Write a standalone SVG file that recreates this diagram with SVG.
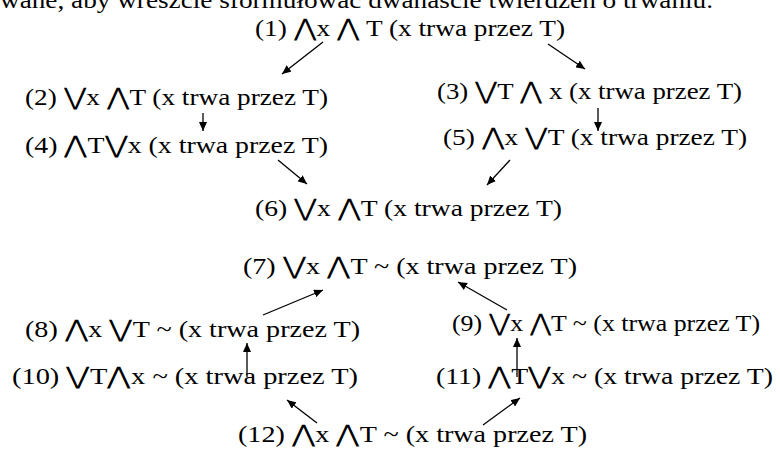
<svg xmlns="http://www.w3.org/2000/svg" width="780" height="455" viewBox="0 0 780 455">
<defs>
<style>
.t{font-family:"Liberation Serif","DejaVu Serif",serif;font-size:24px;fill:#000}
.c line{stroke:#000;stroke-width:1.3;marker-end:url(#ah)}
</style>
<marker id="ah" markerUnits="userSpaceOnUse" markerWidth="10" markerHeight="8" refX="9" refY="4" orient="auto">
<path d="M0,0 L9,4 L0,8 z" fill="#000"/>
</marker>
</defs>
<rect width="780" height="455" fill="#fff"/>
<text class="t" x="0" y="8" textLength="713" lengthAdjust="spacingAndGlyphs">wane, aby wreszcie sformułować dwanaście twierdzeń o trwaniu.</text>
<g id="n1"><text class="t" x="255" y="36" textLength="310" lengthAdjust="spacingAndGlyphs">(1) ⋀x ⋀ T (x trwa przez T)</text></g>
<g id="n2"><text class="t" x="25" y="105" textLength="303" lengthAdjust="spacingAndGlyphs">(2) ⋁x ⋀T (x trwa przez T)</text></g>
<g id="n3"><text class="t" x="437" y="99" textLength="305" lengthAdjust="spacingAndGlyphs">(3) ⋁T ⋀ x (x trwa przez T)</text></g>
<g id="n4"><text class="t" x="25" y="153" textLength="303" lengthAdjust="spacingAndGlyphs">(4) ⋀T⋁x (x trwa przez T)</text></g>
<g id="n5"><text class="t" x="443" y="145" textLength="304" lengthAdjust="spacingAndGlyphs">(5) ⋀x ⋁T (x trwa przez T)</text></g>
<g id="n6"><text class="t" x="255" y="216" textLength="307" lengthAdjust="spacingAndGlyphs">(6) ⋁x ⋀T (x trwa przez T)</text></g>
<g id="n7"><text class="t" x="243" y="274" textLength="334" lengthAdjust="spacingAndGlyphs">(7) ⋁x ⋀T ~  (x trwa przez T)</text></g>
<g id="n8"><text class="t" x="25" y="337" textLength="335" lengthAdjust="spacingAndGlyphs">(8) ⋀x ⋁T ~  (x trwa przez T)</text></g>
<g id="n9"><text class="t" x="452" y="331" textLength="308" lengthAdjust="spacingAndGlyphs">(9) ⋁x ⋀T ~  (x trwa przez T)</text></g>
<g id="n10"><text class="t" x="12" y="384" textLength="346" lengthAdjust="spacingAndGlyphs">(10) ⋁T⋀x ~  (x trwa przez T)</text></g>
<g id="n11"><text class="t" x="436" y="384" textLength="337" lengthAdjust="spacingAndGlyphs">(11) ⋀T⋁x ~  (x trwa przez T)</text></g>
<g id="n12"><text class="t" x="238" y="442" textLength="349" lengthAdjust="spacingAndGlyphs">(12) ⋀x ⋀T ~  (x trwa przez T)</text></g>
<g class="c" id="connectors">
<line x1="323" y1="42" x2="282" y2="74"/>
<line x1="548" y1="44" x2="585" y2="69"/>
<line x1="203" y1="113" x2="203" y2="131"/>
<line x1="598" y1="108" x2="598" y2="131"/>
<line x1="278" y1="160" x2="307" y2="184"/>
<line x1="510" y1="160" x2="487" y2="185"/>
<line x1="263" y1="315" x2="323" y2="290"/>
<line x1="507" y1="310" x2="458" y2="282"/>
<line x1="247" y1="377" x2="247" y2="343"/>
<line x1="517" y1="377" x2="517" y2="338"/>
<line x1="317" y1="423" x2="287" y2="400"/>
<line x1="483" y1="425" x2="520" y2="398"/>
</g>
</svg>
